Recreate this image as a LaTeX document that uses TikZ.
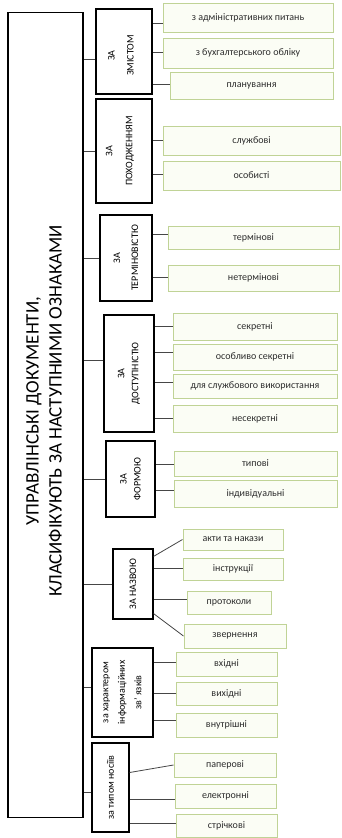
\documentclass[tikz,border=0pt]{standalone}
\usepackage{fontspec}
\setmainfont{Carlito}
\definecolor{leafline}{RGB}{192,211,150}
\definecolor{leaffill}{RGB}{251,253,245}
\definecolor{conn}{RGB}{70,70,70}
\definecolor{leaftext}{RGB}{45,45,45}
\tikzset{
  mainbox/.style={draw=black,line width=1.3pt,inner sep=0pt},
  catbox/.style={draw=black,line width=1.2pt,inner sep=0pt,fill=white},
  cattext/.style={rotate=90,align=center,inner sep=0pt},
  leaf/.style={draw=leafline,line width=1pt,fill=leaffill,inner sep=0pt,font=\fontsize{10}{12}\selectfont,text=leaftext},
  link/.style={draw=conn,line width=0.8pt}
}
\newcommand{\lf}[6]{\node[leaf,minimum width=#4pt,minimum height=#5pt] (#1) at (#2,#3) {#6};}
\newcommand{\cf}[1]{\fontsize{10}{#1}\selectfont}
\begin{document}
\begin{tikzpicture}[x=1pt,y=-1pt]
\useasboundingbox (0,0) rectangle (341,838);
% main box
\node[mainbox,minimum width=75pt,minimum height=805pt] (main) at (45.5,415) {};
\node[rotate=90,align=center,font=\fontsize{19}{23}\selectfont] (maint) at ([xshift=-1.5pt,yshift=4pt]main.center) {УПРАВЛІНСЬКІ ДОКУМЕНТИ,\\КЛАСИФІКУЮТЬ ЗА НАСТУПНИМИ ОЗНАКАМИ};
% categories
\node[catbox,minimum width=56pt,minimum height=85pt] (c1) at (124,51.5) {};
\node[cattext,font=\cf{19}] (c1t) at ([xshift=-3pt,yshift=-4pt]c1.center) {ЗА\\ЗМІСТОМ};
\node[catbox,minimum width=56pt,minimum height=104pt] (c2) at (124,151) {};
\node[cattext,font=\cf{20}] (c2t) at ([xshift=-4pt]c2.center) {ЗА\\ПОХОДЖЕННЯМ};
\node[catbox,minimum width=52pt,minimum height=86pt] (c3) at (126,258) {};
\node[cattext,font=\cf{18}] (c3t) at (c3) {ЗА\\ТЕРМІНОВІСТЮ};
\node[catbox,minimum width=50pt,minimum height=117pt] (c4) at (129,373.5) {};
\node[cattext,font=\cf{14}] (c4t) at (c4) {ЗА\\ДОСТУПНІСТЮ};
\node[catbox,minimum width=49pt,minimum height=76pt] (c5) at (130.5,479) {};
\node[cattext,font=\cf{14}] (c5t) at (c5) {ЗА\\ФОРМОЮ};
\node[catbox,minimum width=40pt,minimum height=70pt] (c6) at (133,584) {};
\node[cattext,font=\cf{12}] (c6t) at (c6) {ЗА НАЗВОЮ};
\node[catbox,minimum width=61pt,minimum height=89pt] (c7) at (122.5,692.5) {};
\node[cattext,font=\cf{16.5}] (c7t) at (c7) {за характером\\інформаційних\\зв' язків};
\node[catbox,minimum width=37pt,minimum height=89pt] (c8) at (110.5,787.5) {};
\node[cattext,font=\cf{12}] (c8t) at (c8) {за типом носіїв};
% main connectors
\draw[link] ([yshift=-7.5pt]c1.west) -- ([yshift=-7.5pt]c1.west -| main.east);
\draw[link] (c2.west) -- (c2.west -| main.east);
\draw[link] (c3.west) -- (c3.west -| main.east);
\draw[link] ([yshift=13pt]c4.west) -- ([yshift=13pt]c4.west -| main.east);
\draw[link] (c5.west) -- (c5.west -| main.east);
\draw[link] (c6.west) -- (c6.west -| main.east);
\draw[link] ([yshift=5pt]c7.west) -- ([yshift=5pt]c7.west -| main.east);
\draw[link] ([yshift=-5pt]c8.west) -- ([yshift=-5pt]c8.west -| main.east);
% leaves
\lf{l11}{248}{17.5}{170}{29}{з адміністративних питань}
\lf{l12}{248}{53}{170}{30}{з бухгалтерського обліку}
\lf{l13}{251.5}{85.5}{163}{27}{планування}
\lf{l21}{251.5}{140.5}{177}{29}{службові}
\lf{l22}{251.5}{175.5}{177}{29}{особисті}
\lf{l31}{253.5}{237.5}{171}{23}{термінові}
\lf{l32}{253.5}{278}{171}{26}{нетермінові}
\lf{l41}{255}{326.5}{164}{27}{секретні}
\lf{l42}{255}{357}{164}{26}{особливо секретні}
\lf{l43}{255}{386}{164}{24}{для службового використання}
\lf{l44}{255}{418.5}{164}{27}{несекретні}
\lf{l51}{255.5}{463.5}{163}{25}{типові}
\lf{l52}{255.5}{493.5}{163}{27}{індивідуальні}
\lf{l61}{233}{539.5}{100}{21}{акти та накази}
\lf{l62}{233}{569}{100}{22}{інструкції}
\lf{l63}{229}{602.5}{84}{23}{протоколи}
\lf{l64}{235}{636}{102}{24}{звернення}
\lf{l71}{226.5}{664}{101}{24}{вхідні}
\lf{l72}{226.5}{693.5}{101}{23}{вихідні}
\lf{l73}{226.5}{725}{101}{24}{внутрішні}
\lf{l81}{225}{765}{102}{24}{паперові}
\lf{l82}{225.5}{796}{101}{24}{електронні}
\lf{l83}{226.5}{825.5}{101}{23}{стрічкові}
% leaf connectors (shift: negative = down)
\foreach \c/\l/\s in {c1/l11/-5.5,c1/l12/1,c1/l13/1,c2/l21/0,c2/l22/1,c3/l31/3,c3/l32/1,c4/l41/0,c4/l42/5,c4/l43/4,c4/l44/0,c5/l51/-1,c5/l52/3,c6/l62/1,c6/l63/3,c7/l71/2,c7/l72/0,c7/l73/5,c8/l82/-3,c8/l83/2}
  \draw[link] ([yshift=\s pt]\l.west) -- ([yshift=\s pt]\l.west -| \c.east);
\draw[link] ([yshift=-8pt]c6.north east) -- (l61.west);
\draw[link] ([yshift=6pt]c6.south east) -- (l64.west);
\draw[link] ([yshift=15pt]c8.east) -- (l81.west);
\end{tikzpicture}
\end{document}
